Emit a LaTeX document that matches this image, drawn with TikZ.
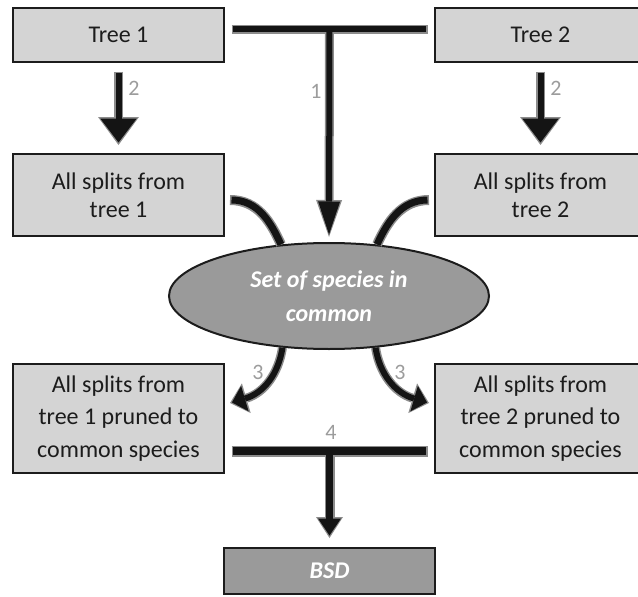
\documentclass[tikz,border=0pt]{standalone}
\usepackage{fontspec}
\setmainfont{Carlito}
\usetikzlibrary{arrows.meta,shapes.geometric,calc}
\definecolor{boxfill}{HTML}{D4D4D4}
\definecolor{ovalfill}{HTML}{9A9A9A}
\definecolor{inkdark}{HTML}{1C1C1C}
\definecolor{inkblack}{HTML}{141414}
\definecolor{rimgray}{HTML}{8C8C8C}
\definecolor{numgray}{HTML}{9C9C9C}

\begin{document}
\begin{tikzpicture}[x=1pt,y=-1pt,
  box/.style={draw=inkdark, line width=2pt, fill=boxfill, text=inkdark,
    minimum width=211pt, align=center, inner sep=0pt,
    font=\fontsize{24}{28}\selectfont},
  lbl/.style={text=numgray, inner sep=0pt, font=\fontsize{22}{22}\selectfont},
  rim/.style={draw=rimgray, line width=#1},
  ink/.style={draw=inkblack, line width=#1}]
\useasboundingbox (0,0) rectangle (638,597);

% boxes and the oval
\node[box, minimum height=54pt] (t1) at (118.5,34.5) {Tree 1};
\node[box, minimum height=54pt] (t2) at (540.5,34.5) {Tree 2};
\node[box, minimum height=82pt] (s1) at (118.5,195) {All splits from\\tree 1};
\node[box, minimum height=82pt] (s2) at (540.5,195) {All splits from\\tree 2};
\node[box, minimum height=109pt, font=\fontsize{24}{32.5}\selectfont] (p1) at (118.5,418.5)
  {All splits from\\tree 1 pruned to\\common species};
\node[box, minimum height=109pt, font=\fontsize{24}{32.5}\selectfont] (p2) at (540.5,418.5)
  {All splits from\\tree 2 pruned to\\common species};
\node[ellipse, draw=inkdark, line width=2pt, fill=ovalfill, minimum width=320pt,
  minimum height=106pt, inner sep=0pt, text=white, align=center,
  font=\bfseries\itshape\fontsize{24}{34}\selectfont] (ell) at (329,296)
  {Set of species in\\common};
\node[box, fill=ovalfill, text=white, minimum height=46pt,
  font=\bfseries\itshape\fontsize{24}{28}\selectfont] (bsd) at (329.5,571) {BSD};

% connector end points
\coordinate (b1l) at (233,29);
\coordinate (b1r) at (426,29);
\coordinate (b1m) at ($(b1l)!0.5!(b1r)$);
\coordinate (b4l) at (233,451);
\coordinate (b4r) at (426,451);
\coordinate (b4m) at ($(b4l)!0.5!(b4r)$);
\coordinate (c1s) at ($(s1.east)+(5,5)$);
\coordinate (c2s) at ($(s2.west)+(-5,5)$);
\coordinate (h3l) at ($(p1.east)+(5,-15.5)$);
\coordinate (h3r) at ($(p2.west)+(-5,-15.5)$);

% step 1: both trees feed the set of common species
\draw[rim=9pt, shorten <=-1.5pt, shorten >=-1.5pt] (b1l) -- (b1r);
\draw[rim=9pt, shorten >=5pt, -{Triangle[length=37pt,width=26pt,line width=0pt]}] (b1m) -- (ell.north);
\draw[ink=6pt] (b1l) -- (b1r);
\draw[ink=6pt, shorten >=7.5pt, -{Triangle[length=33pt,width=22pt,line width=0pt]}] (b1m) -- (ell.north);

% step 2: splits of each tree
\draw[rim=9pt, -{Triangle[length=28pt,width=41pt,line width=0pt]}]
  ($(t1.south)+(0,9)$) -- ($(s1.north)+(0,-8)$);
\draw[ink=6pt, -{Triangle[length=24pt,width=36.5pt,line width=0pt]}]
  ($(t1.south)+(0,10.5)$) -- ($(s1.north)+(0,-10.5)$);
\draw[rim=9pt, -{Triangle[length=28pt,width=41pt,line width=0pt]}]
  ($(t2.south)+(0,9)$) -- ($(s2.north)+(0,-8)$);
\draw[ink=6pt, -{Triangle[length=24pt,width=36.5pt,line width=0pt]}]
  ($(t2.south)+(0,10.5)$) -- ($(s2.north)+(0,-10.5)$);

% splits meet the common species set
\draw[rim=10pt] (c1s) .. controls +(28,0) and +(-10,-22) .. (ell.133);
\draw[ink=7pt, shorten <=1.5pt] (c1s) .. controls +(28,0) and +(-10,-22) .. (ell.133);
\draw[rim=10pt] (c2s) .. controls +(-28,0) and +(10,-22) .. (ell.47);
\draw[ink=7pt, shorten <=1.5pt] (c2s) .. controls +(-28,0) and +(10,-22) .. (ell.47);

% step 3: pruning to the common species
\draw[rim=9pt, -{Triangle[length=17pt,width=31pt,line width=0pt]}]
  (ell.228) .. controls +(-4,26) and +(34,-10) .. (h3l);
\draw[ink=6pt, shorten >=2pt, -{Triangle[length=13.5pt,width=26.5pt,line width=0pt]}]
  (ell.228) .. controls +(-4,26) and +(34,-10) .. (h3l);
\draw[rim=9pt, -{Triangle[length=17pt,width=31pt,line width=0pt]}]
  (ell.312) .. controls +(4,26) and +(-34,-10) .. (h3r);
\draw[ink=6pt, shorten >=2pt, -{Triangle[length=13.5pt,width=26.5pt,line width=0pt]}]
  (ell.312) .. controls +(4,26) and +(-34,-10) .. (h3r);

% step 4: the pruned splits give the BSD
\draw[rim=11pt, shorten <=-1.5pt, shorten >=-1.5pt] (b4l) -- (b4r);
\draw[rim=10pt, shorten >=9pt, -{Triangle[length=21pt,width=27pt,line width=0pt]}] (b4m) -- (bsd.north);
\draw[ink=8pt] (b4l) -- (b4r);
\draw[ink=7pt, shorten >=11.5pt, -{Triangle[length=17pt,width=23pt,line width=0pt]}] (b4m) -- (bsd.north);

% step numbers
\node[lbl] (n1) at (316,91) {1};
\node[lbl] (n2a) at (134,88) {2};
\node[lbl] (n2b) at (556,88) {2};
\node[lbl] (n3a) at (258,372) {3};
\node[lbl] (n3b) at (400,372) {3};
\node[lbl] (n4) at (331,432) {4};
\end{tikzpicture}
\end{document}
